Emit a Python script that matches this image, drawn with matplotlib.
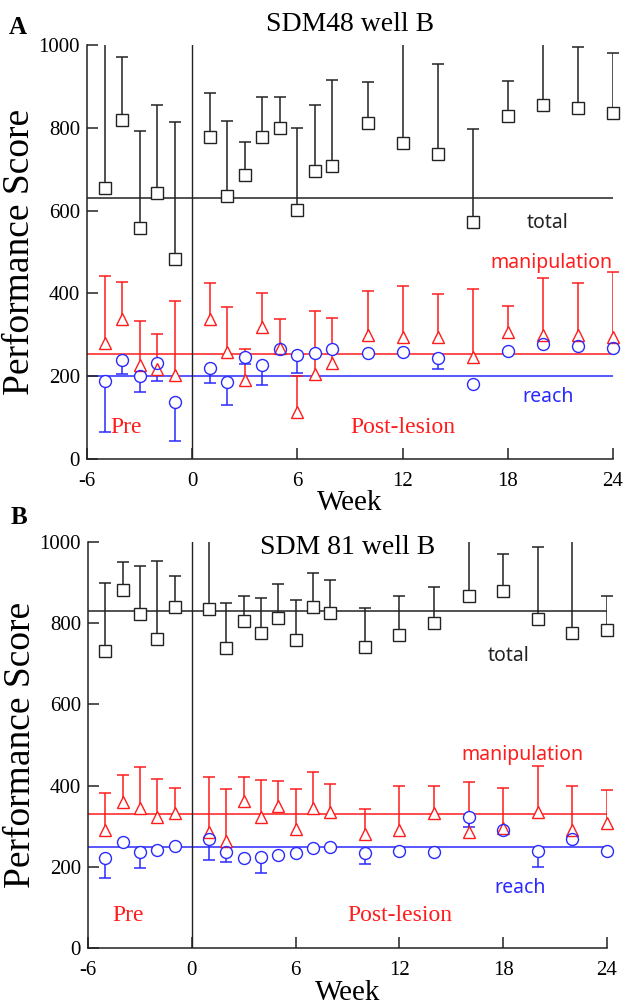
import numpy as np
import matplotlib
matplotlib.use("Agg")
import matplotlib.pyplot as plt

plt.rcParams['font.family'] = ['Liberation Serif', 'DejaVu Serif']
plt.rcParams['axes.unicode_minus'] = False

RED = '#ff1c1c'
BLUE = '#2a2aff'
NAN = np.nan

# weeks (same for both animals)
weeks = [-5, -4, -3, -2, -1, 1, 2, 3, 4, 5, 6, 7, 8, 10, 12, 14, 16, 18, 20, 22, 24]

# --- A: SDM48 well B ---
a_total = [654, 820, 559, 643, 482, 778, 635, 687, 777, 799, 602, 695, 708, 812, 763, 737, 572, 829, 855, 849, 836]
a_total_hi = [1050, 972, 792, 854, 813, 885, 816, 766, 874, 874, 799, 854, 915, 910, 1050, 953, 798, 912, 1050, 996, 980]
a_manip = [279, 338, 227, 217, 203, 337, 259, 191, 320, 268, 114, 205, 231, 300, 295, 295, 246, 306, 300, 300, 295]
a_manip_hi = [442, 428, 334, 302, 382, 426, 368, 265, 402, 338, 200, 357, 341, 406, 418, 398, 410, 370, 438, 424, 452]
a_reach = [188, 239, 201, 233, 138, 219, 186, 246, 228, 266, 251, 255, 265, 255, 259, 243, 180, 262, 277, 273, 269]
a_reach_lo = [66, 205, 161, 189, 44, 183, 131, 230, 178, NAN, 208, NAN, NAN, NAN, NAN, 217, NAN, NAN, NAN, NAN, NAN]
a_means = {'total': 631, 'manip': 254, 'reach': 200}

# --- B: SDM 81 well B ---
b_total = [731, 881, 822, 761, 839, 834, 739, 806, 776, 812, 759, 839, 825, 742, 770, 801, 867, 879, 809, 775, 784]
b_total_hi = [899, 949, 940, 952, 915, 1050, 850, 867, 862, 895, 857, 924, 906, 838, 867, 888, 1050, 969, 988, 1050, 867]
b_manip = [291, 359, 344, 324, 332, 287, 264, 362, 322, 351, 293, 344, 334, 280, 291, 332, 285, 296, 336, 290, 307]
b_manip_hi = [381, 425, 445, 416, 394, 422, 392, 422, 414, 411, 392, 433, 403, 342, 400, 400, 408, 395, 448, 400, 389]
b_reach = [221, 261, 238, 242, 252, 270, 238, 221, 225, 229, 235, 246, 248, 234, 239, 236, 323, 292, 239, 268, 240]
b_reach_lo = [172, NAN, 198, NAN, NAN, 217, 213, NAN, 186, NAN, NAN, NAN, NAN, 207, NAN, NAN, 299, NAN, 200, NAN, NAN]
b_means = {'total': 830, 'manip': 331, 'reach': 250}

xticks = [-6, 0, 6, 12, 18, 24]
yticks = [0, 200, 400, 600, 800, 1000]


def one_sided_bars(ax, x, y, end, color):
    x = np.asarray(x, float)
    y = np.asarray(y, float)
    end = np.asarray(end, float)
    ok = ~np.isnan(end)
    ax.vlines(x[ok], y[ok], end[ok], color=color, lw=1.1, zorder=2)
    # caps only where the bar ends inside the axis (longer ones run off the top)
    cap = ok & (np.nan_to_num(end) <= 1000)
    ax.plot(x[cap], end[cap], ls='none', marker='_', ms=8.6, mew=1.1,
            color=color, zorder=2, clip_on=False)


def draw_panel(ax, total, total_hi, manip, manip_hi, reach, reach_lo, means, title, title_y, txt):
    ax.set_xlim(-6, 24)
    ax.set_ylim(0, 1000)

    ax.axhline(means['total'], color='#222222', lw=1.1, zorder=1)
    ax.axhline(means['manip'], color=RED, lw=1.1, zorder=1)
    ax.axhline(means['reach'], color=BLUE, lw=1.1, zorder=1)
    ax.axvline(0, color='#222222', lw=1.0, zorder=1)

    one_sided_bars(ax, weeks, total, total_hi, '#222222')
    one_sided_bars(ax, weeks, manip, manip_hi, RED)
    one_sided_bars(ax, weeks, reach, reach_lo, BLUE)

    series = [(total, 's', 8.4, '#222222'), (manip, '^', 9.2, RED), (reach, 'o', 8.6, BLUE)]
    # white masks first so bars don't show inside markers, then hollow outlines
    for vals, m, ms, c in series:
        ax.plot(weeks, vals, ls='none', marker=m, ms=ms, mfc='white', mec='none',
                zorder=3, clip_on=False)
    for vals, m, ms, c in series:
        ax.plot(weeks, vals, ls='none', marker=m, ms=ms, mfc='none', mec=c, mew=1.0,
                zorder=4, clip_on=False)

    for s in ['top', 'right']:
        ax.spines[s].set_visible(False)
    for s in ['left', 'bottom']:
        ax.spines[s].set_linewidth(1.1)
        ax.spines[s].set_color('#222222')

    ax.set_xticks(xticks)
    ax.set_yticks(yticks)
    ax.tick_params(direction='in', length=8, width=1.1, labelsize=15, color='#222222')
    ax.tick_params(axis='x', pad=9)
    ax.tick_params(axis='y', pad=5)
    ax.set_xlabel('Week', fontsize=21, labelpad=0)
    ax.set_ylabel('Performance Score', fontsize=27, labelpad=1)

    ax.text(0.5, title_y, title, transform=ax.transAxes, ha='center', va='center', fontsize=20)

    sans = ['Noto Sans', 'DejaVu Sans']
    ax.text(*txt['total'], 'total', color='#222222', fontsize=14, family=sans, ha='center', va='center')
    ax.text(*txt['manip'], 'manipulation', color=RED, fontsize=14, family=sans, ha='center', va='center')
    ax.text(*txt['reach'], 'reach', color=BLUE, fontsize=14, family=sans, ha='center', va='center')
    ax.text(*txt['post'], 'Post-lesion', color=RED, fontsize=17, ha='center', va='center')
    ax.text(*txt['pre'], 'Pre', color=RED, fontsize=17, ha='center', va='center')


fig = plt.figure(figsize=(6.25, 10.05), dpi=100)
W, H = 625, 1005

axA = fig.add_axes([87 / W, 1 - 459 / H, 526 / W, 414 / H])
draw_panel(axA, a_total, a_total_hi, a_manip, a_manip_hi, a_reach, a_reach_lo, a_means,
           'SDM48 well B', 1.05,
           {'total': (20.25, 570), 'manip': (20.5, 473), 'reach': (20.3, 150),
            'post': (12.0, 77), 'pre': (-3.75, 77)})

axB = fig.add_axes([88 / W, 1 - 948.3 / H, 519 / W, 406.6 / H])
draw_panel(axB, b_total, b_total_hi, b_manip, b_manip_hi, b_reach, b_reach_lo, b_means,
           'SDM 81 well B', 0.985,
           {'total': (18.3, 719), 'manip': (19.1, 476), 'reach': (19.0, 149),
            'post': (12.0, 80), 'pre': (-3.7, 80)})

fig.text(18 / W, 1 - 27 / H, 'A', fontsize=18, fontweight='bold', ha='center', va='center')
fig.text(19 / W, 1 - 517 / H, 'B', fontsize=18, fontweight='bold', ha='center', va='center')

fig.savefig('out.png', dpi=100)
